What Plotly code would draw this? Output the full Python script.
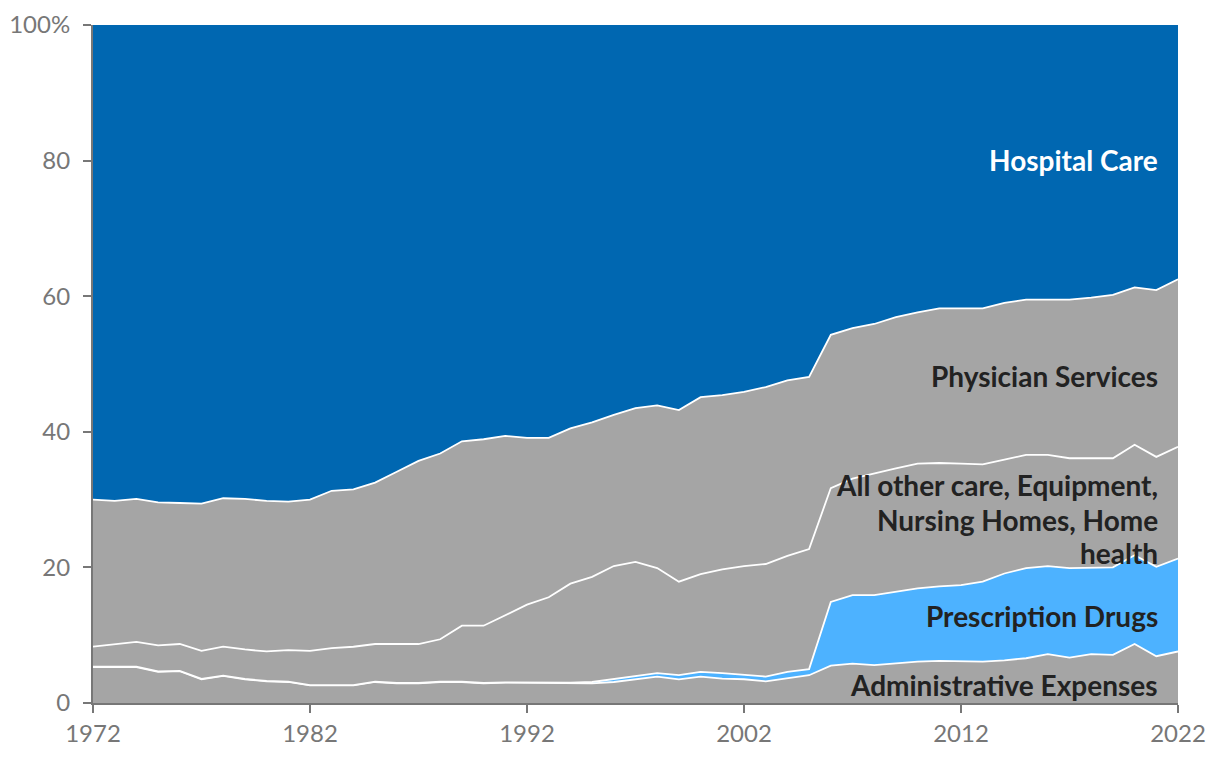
import plotly.graph_objects as go

years = list(range(1972, 2023))

# cumulative boundaries (percent)
admin_top = [5.3, 5.3, 5.3, 4.6, 4.7, 3.5, 4.0, 3.5, 3.2, 3.1,
             2.6, 2.6, 2.6, 3.1, 2.9, 2.9, 3.1, 3.1, 2.9, 3.0,
             3.0, 2.9, 2.9, 2.9, 3.1, 3.5, 3.9, 3.5, 3.9, 3.6,
             3.5, 3.2, 3.7, 4.1, 5.5, 5.8, 5.6, 5.9, 6.1, 6.2,
             6.2, 6.1, 6.3, 6.6, 7.2, 6.7, 7.2, 7.1, 8.7, 6.9, 7.6]
rx_top = [5.35, 5.35, 5.35, 4.65, 4.75, 3.55, 4.05, 3.55, 3.25, 3.15,
          2.65, 2.65, 2.65, 3.15, 2.95, 2.95, 3.15, 3.15, 2.95, 3.05,
          3.05, 2.95, 3.0, 3.1, 3.5, 4.0, 4.4, 4.1, 4.6, 4.4,
          4.2, 3.9, 4.6, 5.0, 14.9, 15.9, 15.9, 16.4, 16.9, 17.2,
          17.4, 17.9, 19.1, 19.9, 20.2, 19.9, 20.0, 20.0, 21.8, 20.1, 21.3]
other_top = [8.3, 8.7, 9.0, 8.5, 8.7, 7.7, 8.3, 7.9, 7.6, 7.8,
             7.7, 8.1, 8.3, 8.7, 8.7, 8.7, 9.4, 11.4, 11.4, 13.0,
             14.5, 15.6, 17.6, 18.6, 20.2, 20.8, 19.9, 17.9, 19.0, 19.7,
             20.2, 20.5, 21.7, 22.7, 31.7, 33.1, 33.9, 34.6, 35.3, 35.4,
             35.3, 35.2, 35.9, 36.6, 36.6, 36.1, 36.1, 36.1, 38.1, 36.3, 37.8]
phys_top = [30.0, 29.8, 30.1, 29.6, 29.5, 29.4, 30.2, 30.1, 29.8, 29.7,
            30.0, 31.3, 31.5, 32.5, 34.1, 35.7, 36.8, 38.6, 38.9, 39.4,
            39.1, 39.1, 40.5, 41.4, 42.5, 43.5, 43.9, 43.2, 45.1, 45.4,
            45.9, 46.6, 47.6, 48.1, 54.3, 55.3, 55.9, 56.9, 57.6, 58.2,
            58.2, 58.2, 59.0, 59.5, 59.5, 59.5, 59.8, 60.2, 61.3, 60.9, 62.5]

admin = admin_top
rx = [round(b - a, 2) for a, b in zip(admin_top, rx_top)]
other = [round(b - a, 2) for a, b in zip(rx_top, other_top)]
phys = [round(b - a, 2) for a, b in zip(other_top, phys_top)]
hosp = [round(100 - a, 2) for a in phys_top]

series = [
    ("Administrative Expenses", admin, "#A5A5A5"),
    ("Prescription Drugs", rx, "#4DB2FF"),
    ("All other care", other, "#A5A5A5"),
    ("Physician Services", phys, "#A5A5A5"),
    ("Hospital Care", hosp, "#0067B1"),
]

fig = go.Figure()
for name, vals, color in series:
    fig.add_trace(go.Scatter(
        x=years, y=vals, name=name, mode="lines", stackgroup="one",
        fillcolor=color,
        line=dict(color="white", width=0 if name == "Hospital Care" else 1.8),
        hoverinfo="skip",
    ))

label_texts = ["Hospital Care", "Physician Services", "All other care, Equipment,",
               "Nursing Homes, Home", "health", "Prescription Drugs",
               "Administrative Expenses"]
label_y = [80.1, 48.2, 32.1, 27.0, 22.1, 12.8, 2.6]
label_colors = ["white", "#222222", "#222222", "#222222", "#222222", "#222222", "#222222"]
for text, yv, col in zip(label_texts, label_y, label_colors):
    fig.add_annotation(
        x=2021.15, y=yv, xref="x", yref="y", text=f"<b>{text}</b>",
        showarrow=False, xanchor="right", yanchor="middle", align="right",
        font=dict(family="Lato", size=28, color=col),
    )

tickvals = [0, 20, 40, 60, 80, 100]
ticktext = ["0", "20", "40", "60", "80", "100%"]

fig.update_layout(
    width=1220, height=764,
    margin=dict(l=85, r=50, t=17, b=69, autoexpand=False),
    paper_bgcolor="white", plot_bgcolor="white",
    showlegend=False,
    font=dict(family="Lato", size=24, color="#777777"),
    xaxis=dict(range=[1972, 2022], tickvals=list(range(1972, 2023, 10)),
               showgrid=False, zeroline=False, showline=True, linecolor="#777777",
               linewidth=2, ticks="outside", ticklen=8, tickcolor="#777777",
               tickwidth=2, ticklabelstandoff=0, automargin=False),
    yaxis=dict(range=[0, 100], tickvals=tickvals, ticktext=ticktext,
               showgrid=False, zeroline=False, showline=True, linecolor="#777777",
               linewidth=2, ticks="outside", ticklen=8, tickcolor="#777777",
               tickwidth=2, ticklabelstandoff=8, automargin=False),
)

fig.write_html("out.html")
